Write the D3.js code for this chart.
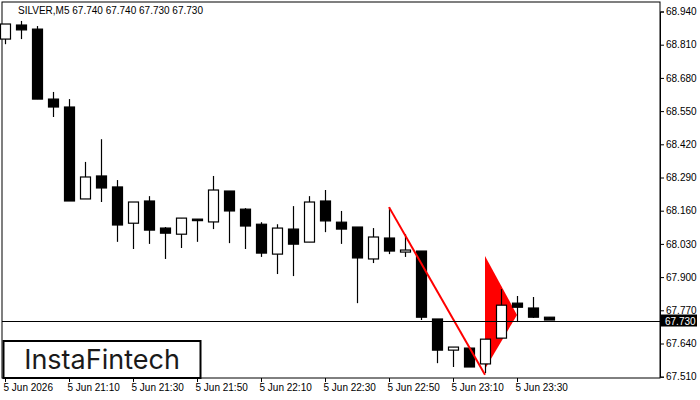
<!DOCTYPE html>
<html><head><meta charset="utf-8">
<script src="https://cdn.jsdelivr.net/npm/d3@7"></script>
<style>body{margin:0;background:#fff}svg{display:block}</style>
</head><body>
<script>
const times = ["20:50","20:55","21:00","21:05","21:10","21:15","21:20","21:25","21:30","21:35","21:40","21:45","21:50","21:55","22:00","22:05","22:10","22:15","22:20","22:25","22:30","22:35","22:40","22:45","22:50","22:55","23:00","23:05","23:10","23:15","23:20","23:25","23:30","23:35","23:40"];
const opens  = [68.832,68.887,68.871,68.597,68.566,68.206,68.296,68.253,68.111,68.198,68.092,68.068,68.127,68.116,68.237,68.166,68.107,67.990,68.088,68.037,68.198,68.115,68.096,67.971,68.053,67.998,68.002,67.736,67.614,67.622,67.560,67.661,67.798,67.779,67.743];
const highs  = [68.891,68.903,68.883,68.625,68.597,68.351,68.440,68.280,68.194,68.217,68.096,68.131,68.127,68.296,68.237,68.170,68.115,68.107,68.178,68.217,68.241,68.159,68.096,68.092,68.174,68.068,68.002,67.736,67.626,67.622,67.657,67.853,67.826,67.822,67.743];
const lows   = [68.812,68.832,68.597,68.527,68.198,68.206,68.194,68.038,68.010,68.030,67.971,68.014,68.038,68.088,68.033,68.010,67.979,67.912,67.904,68.037,68.076,68.030,67.798,67.955,67.990,67.979,67.732,67.563,67.548,67.548,67.524,67.661,67.724,67.740,67.732];
const closes = [68.891,68.868,68.597,68.566,68.198,68.292,68.249,68.104,68.194,68.084,68.072,68.131,68.123,68.241,68.159,68.100,67.994,68.092,68.029,68.194,68.120,68.088,67.975,68.057,68.002,68.006,67.743,67.614,67.626,67.548,67.657,67.790,67.782,67.743,67.732];
const yTicks = [67.510,67.640,67.770,67.900,68.030,68.160,68.290,68.420,68.550,68.680,68.810,68.940];
const xTickIdx = [0,4,8,12,16,20,24,28,32];
const xTickLabels = ["5 Jun 2026","5 Jun 21:10","5 Jun 21:30","5 Jun 21:50","5 Jun 22:10","5 Jun 22:30","5 Jun 22:50","5 Jun 23:10","5 Jun 23:30"];
const pole = [{i:24,p:68.174},{i:30,p:67.518}];
const flag = [{i:30,p:67.983},{i:32,p:67.752},{i:30,p:67.540}];
const lastPrice = 67.730;

const FONT="'Liberation Sans', Arial, sans-serif";
const W=700,H=400,L=2,R=660,T=2,B=378;
const svg=d3.select("body").append("svg").attr("width",W).attr("height",H).style("font-family",FONT);
const y=d3.scaleLinear().domain([67.510,68.940]).range([376.7,11.5]);
const x=d3.scaleLinear().domain([0,1]).range([5,21]);
svg.append("rect").attr("x",L).attr("y",T).attr("width",R-L).attr("height",B-T).attr("fill","#fff").attr("stroke","#000").attr("stroke-width",1);
svg.append("polygon").attr("points",flag.map(d=>x(d.i)+","+y(d.p)).join(" ")).attr("fill","#f00");
const g=svg.append("g");
const sh=v=>Math.round(v)+0.5;
times.forEach((t,k)=>{
  const cx=sh(x(k));
  const o=opens[k],c=closes[k];
  g.append("line").attr("x1",cx).attr("x2",cx).attr("y1",y(highs[k])).attr("y2",y(lows[k])).attr("stroke","#000").attr("stroke-width",1.2);
  const top=Math.min(y(o),y(c)),h=Math.max(1.5,Math.abs(y(o)-y(c)));
  g.append("rect").attr("x",cx-5).attr("y",top).attr("width",10).attr("height",h)
   .attr("fill",c<o?"#000":"#fff").attr("stroke","#000").attr("stroke-width",1.2);
});
svg.append("line").attr("x1",x(pole[0].i)).attr("y1",y(pole[0].p)).attr("x2",x(pole[1].i)).attr("y2",y(pole[1].p)).attr("stroke","#f00").attr("stroke-width",2);
svg.append("line").attr("x1",L).attr("x2",R).attr("y1",sh(y(lastPrice))).attr("y2",sh(y(lastPrice))).attr("stroke","#000").attr("stroke-width",1);
const ya=svg.append("g").attr("transform",`translate(${R},0)`).call(d3.axisRight(y).tickValues(yTicks).tickFormat(d3.format(".3f")).tickSize(4).tickPadding(2));
ya.select(".domain").attr("stroke","#000");
ya.selectAll("text").attr("font-size",10).attr("fill","#000").attr("font-family",FONT);
svg.append("rect").attr("x",R+1).attr("y",y(lastPrice)-6).attr("width",36).attr("height",12).attr("fill","#000");
svg.append("text").attr("x",R+5).attr("y",y(lastPrice)+4).attr("fill","#fff").attr("font-size",10).text(lastPrice.toFixed(3));
const xa=svg.append("g").attr("transform",`translate(0,${B})`).call(d3.axisBottom(x).tickValues(xTickIdx).tickFormat((d,j)=>xTickLabels[j]).tickSize(4).tickPadding(2));
xa.select(".domain").remove();
xa.selectAll("text").attr("font-size",10).attr("fill","#000").attr("font-family",FONT).attr("text-anchor","start").attr("dx",-2);
svg.append("text").attr("x",18).attr("y",14).attr("font-size",10).attr("fill","#000").text("SILVER,M5  67.740 67.740 67.730 67.730");
svg.append("rect").attr("x",3.5).attr("y",341).attr("width",197).attr("height",37).attr("fill","#fff").attr("stroke","#000").attr("stroke-width",2);
svg.append("text").attr("x",102).attr("y",369).attr("text-anchor","middle").attr("font-size",27).attr("font-family","Inter, 'Open Sans', sans-serif").attr("fill","#1a1a1a").text("InstaFintech");
</script>
</body></html>
